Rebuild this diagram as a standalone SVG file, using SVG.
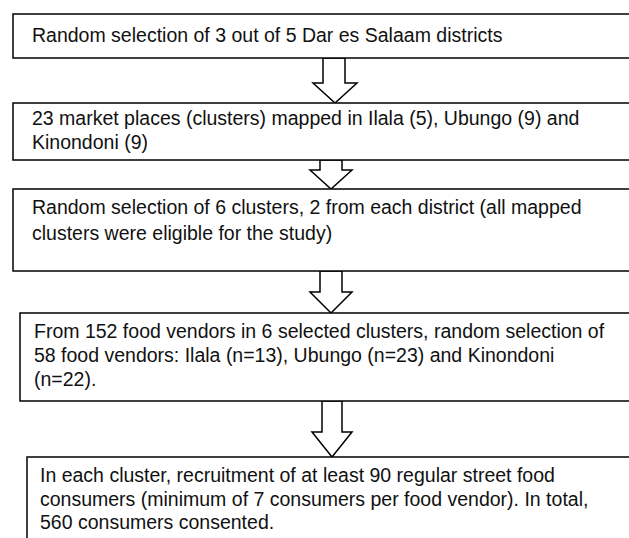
<svg xmlns="http://www.w3.org/2000/svg" width="629" height="538" viewBox="0 0 629 538">
<style>
.box{fill:#fff;stroke:#000;stroke-width:1.5}
.arr{fill:#fff;stroke:#000;stroke-width:1.5;stroke-linejoin:miter}
text{font-family:"Liberation Sans",Arial,sans-serif;font-size:19.5px;fill:#111}
</style>
<rect width="629" height="538" fill="#fff"/>
<g id="connectors">
<path class="arr" d="M323,58 H345 V83 H357 L335,103 L313,83 H323 Z"/>
<path class="arr" d="M320,160 H342 V170 H352 L331,189 L310,170 H320 Z"/>
<path class="arr" d="M320,271 H342 V292 H352 L331,313 L310,292 H320 Z"/>
<path class="arr" d="M322,401 H342 V432 H352 L332,457 L312,432 H322 Z"/>
</g>
<g id="n1">
<rect class="box" x="13" y="14" width="620" height="44"/>
<text x="32" y="42">Random selection of 3 out of 5 Dar es Salaam districts</text>
</g>
<g id="n2">
<rect class="box" x="13" y="103" width="620" height="57"/>
<text x="32" y="125">23 market places (clusters) mapped in Ilala (5), Ubungo (9) and</text>
<text x="32" y="149">Kinondoni (9)</text>
</g>
<g id="n3">
<rect class="box" x="13" y="189" width="620" height="82"/>
<text x="32" y="214">Random selection of 6 clusters, 2 from each district (all mapped</text>
<text x="32" y="240">clusters were eligible for the study)</text>
</g>
<g id="n4">
<rect class="box" x="20" y="313" width="615" height="88"/>
<text x="34" y="338">From 152 food vendors in 6 selected clusters, random selection of</text>
<text x="34" y="362">58 food vendors: Ilala (n=13), Ubungo (n=23) and Kinondoni</text>
<text x="34" y="386">(n=22).</text>
</g>
<g id="n5">
<path class="box" d="M27,540 V457 H640"/>
<text x="40" y="482">In each cluster, recruitment of at least 90 regular street food</text>
<text x="40" y="506">consumers (minimum of 7 consumers per food vendor). In total,</text>
<text x="40" y="529">560 consumers consented.</text>
</g>
</svg>
